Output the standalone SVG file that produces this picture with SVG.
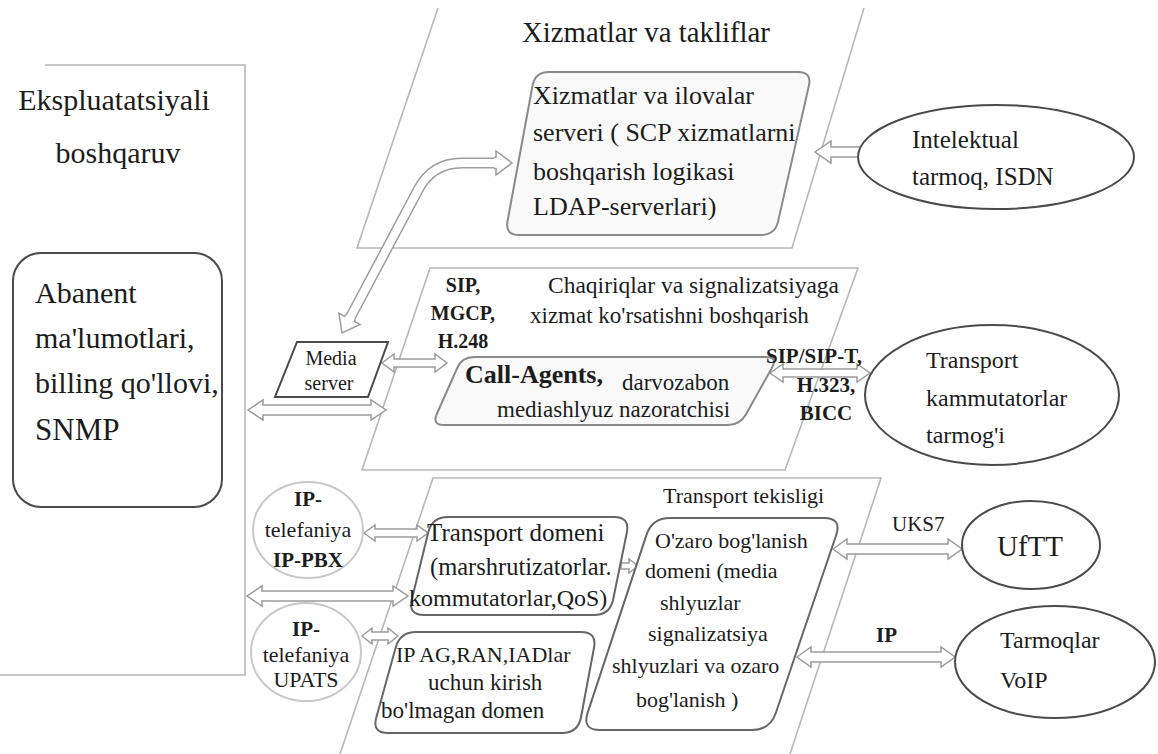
<svg xmlns="http://www.w3.org/2000/svg" xmlns:xlink="http://www.w3.org/1999/xlink" width="1158" height="754" viewBox="0 0 1158 754">
<style>
text{font-family:'Liberation Serif','Tinos','Times New Roman','DejaVu Serif',serif;fill:#1c1c1c}
.b{font-weight:bold}
.m{text-anchor:middle}
.frame{fill:none;stroke:#b7b7b7;stroke-width:1.6}
.arrow{fill:#fff;stroke:#9c9c9c;stroke-width:1.5}
.box{fill:#f9f9f9;stroke:#8a8a8a;stroke-width:2}
.box2{fill:#fff;stroke:#666;stroke-width:2}
.dark{fill:#fff;stroke:#4a4a4a;stroke-width:2}
.light{fill:#fff;stroke:#c8c8c8;stroke-width:2}
</style>
<defs>
<path id="head" d="M-18,-5.5 L-16,-5.5 L-16,-12 L0,0 L-16,12 L-16,5.5 L-18,5.5" class="arrow"/>
</defs>
<rect x="0" y="0" width="1158" height="754" fill="#fff"/>

<g id="planes">
<polyline class="frame" points="45,65 245,65 245,675 0,675"/>
<polyline class="frame" points="438,8 357,248 792,248 864,8"/>
<polygon class="frame" points="430,268 858,268 785,470 362,470"/>
<polyline class="frame" points="340,754 433,478 881,478 790,754"/>
</g>

<g id="connectors">
<polygon class="arrow" points="815,152 831,141 831,147 862,147 862,157 831,157 831,163"/>
<path d="M350,318 L418,190 Q432,163 462,163 L495,163" fill="none" stroke="#9c9c9c" stroke-width="11"/>
<path d="M350,318 L418,190 Q432,163 462,163 L495,163" fill="none" stroke="#fff" stroke-width="8"/>
<use xlink:href="#head" transform="translate(512,163)"/>
<use xlink:href="#head" transform="translate(342,333) rotate(118)"/>
<polygon class="arrow" points="382,363 394,354 394,359 435,359 435,354 447,363 435,372 435,367 394,367 394,372"/>
<polygon class="arrow" points="248,410 263,400 263,405 371,405 371,400 386,410 371,420 371,415 263,415 263,420"/>
<polygon class="arrow" points="247,596 262,586 262,591 393,591 393,586 408,596 393,606 393,601 262,601 262,606"/>
<polygon class="arrow" points="364,533 375,525 375,529 417,529 417,525 428,533 417,541 417,537 375,537 375,541"/>
<polygon class="arrow" points="362,636 372,628 372,632 388,632 388,628 398,636 388,644 388,640 372,640 372,644"/>
<polygon class="arrow" points="621,563 629,563 629,559 638,566 629,573 629,569 621,569"/>
<polygon class="arrow" points="833,549 847,539 847,544 948,544 948,539 962,549 948,559 948,554 847,554 847,559"/>
<polygon class="arrow" points="797,657 811,647 811,652 941,652 941,647 955,657 941,667 941,662 811,662 811,667"/>
<polygon class="arrow" points="770,373 783,364 783,369 857,369 857,364 870,373 857,382 857,377 783,377 783,382"/>
</g>

<g id="ekspluatatsiya">
<text class="m" x="114" y="110" font-size="30">Ekspluatatsiyali</text>
<text class="m" x="118" y="163" font-size="30">boshqaruv</text>
</g>

<g id="abanent">
<rect class="dark" x="13" y="253" width="209" height="254" rx="28" ry="28"/>
<text x="35" y="303" font-size="30">Abanent</text>
<text x="35" y="348" font-size="30">ma'lumotlari,</text>
<text x="35" y="393" font-size="30">billing qo'llovi,</text>
<text x="35" y="440" font-size="31">SNMP</text>
</g>

<g id="title">
<text x="522" y="42" font-size="28.8">Xizmatlar va takliflar</text>
</g>

<g id="server">
<path class="box" d="M549,72 L798,72 Q812,72 808.9,85.7 L778.1,221.4 Q775,235 761,235 L519,235 Q505,235 507.5,221.2 L532.5,85.8 Q535,72 549,72 Z"/>
<text x="533" y="104" font-size="26">Xizmatlar va ilovalar</text>
<text x="533" y="141" font-size="26">serveri ( SCP xizmatlarni</text>
<text x="533" y="180" font-size="26">boshqarish logikasi</text>
<text x="533" y="215" font-size="26">LDAP-serverlari)</text>
</g>

<g id="intelektual">
<ellipse class="dark" cx="996" cy="157" rx="138" ry="52"/>
<text x="912" y="148" font-size="25">Intelektual</text>
<text x="912" y="185" font-size="25">tarmoq, ISDN</text>
</g>

<g id="media-server">
<polygon class="dark" points="297,342 388,342 368,397 275,397"/>
<text class="m" x="331" y="365" font-size="20">Media</text>
<text class="m" x="329" y="390" font-size="20">server</text>
</g>

<g id="call-control">
<text class="b m" x="463" y="292" font-size="20">SIP,</text>
<text class="b m" x="463" y="320" font-size="20">MGCP,</text>
<text class="b m" x="463" y="348" font-size="20">H.248</text>
<text x="548" y="293" font-size="23.5">Chaqiriqlar va signalizatsiyaga</text>
<text x="530" y="323" font-size="23">xizmat ko'rsatishni boshqarish</text>
</g>

<g id="call-agents">
<path class="box" d="M474,357 L766,357 Q778,357 772.1,367.5 L745.9,414.5 Q740,425 728,425 L444,425 Q432,425 436.8,414 L457.2,368 Q462,357 474,357 Z"/>
<text class="b" x="465" y="383" font-size="26">Call-Agents,</text>
<text x="622" y="390" font-size="23">darvozabon</text>
<text x="497" y="417" font-size="23">mediashlyuz nazoratchisi</text>
</g>

<g id="sip-label">
<text class="b" x="766" y="363" font-size="21">SIP/SIP-T,</text>
<text class="b m" x="826" y="392" font-size="21">H.323,</text>
<text class="b m" x="826" y="420" font-size="21">BICC</text>
</g>

<g id="transport-kommutatorlar">
<ellipse class="dark" cx="992" cy="395" rx="127" ry="70"/>
<text x="926" y="368" font-size="24">Transport</text>
<text x="926" y="406" font-size="24">kammutatorlar</text>
<text x="926" y="443" font-size="24">tarmog'i</text>
</g>

<g id="transport-tekisligi">
<text x="663" y="503" font-size="22">Transport tekisligi</text>
</g>

<g id="ip-pbx">
<ellipse class="light" cx="308" cy="530" rx="55" ry="48"/>
<text class="b m" x="308" y="506" font-size="21">IP-</text>
<text class="m" x="308" y="537" font-size="22">telefaniya</text>
<text class="b m" x="308" y="567" font-size="21">IP-PBX</text>
</g>

<g id="upats">
<ellipse class="light" cx="306" cy="652" rx="55" ry="49"/>
<text class="b m" x="306" y="636" font-size="21">IP-</text>
<text class="m" x="306" y="662" font-size="22">telefaniya</text>
<text class="m" x="306" y="687" font-size="22">UPATS</text>
</g>

<g id="transport-domeni">
<path class="box2" d="M448,517 L614,517 Q630,517 626.8,532.7 L613.2,599.3 Q610,615 594,615 L424,615 Q408,615 411.8,599.5 L428.2,532.5 Q432,517 448,517 Z"/>
<text x="427" y="541" font-size="25">Transport domeni</text>
<text x="430" y="575" font-size="24.5">(marshrutizatorlar.</text>
<text x="409" y="606" font-size="24">kommutatorlar,QoS)</text>
</g>

<g id="kirish-domen">
<path class="box2" d="M416,632 L581,632 Q597,632 594,647.7 L581,717.3 Q578,733 562,733 L388,733 Q372,733 376.3,717.6 L395.7,647.4 Q400,632 416,632 Z"/>
<text x="396" y="662" font-size="22">IP AG,RAN,IADlar</text>
<text x="428" y="690" font-size="23">uchun kirish</text>
<text x="381" y="718" font-size="23">bo'lmagan domen</text>
</g>

<g id="ozaro-domen">
<path class="box2" d="M670,518 L824,518 Q842,518 836.2,535 L775.8,713 Q770,730 752,730 L600,730 Q582,730 587.6,712.9 L646.4,535.1 Q652,518 670,518 Z"/>
<text x="655" y="548" font-size="22">O'zaro bog'lanish</text>
<text x="645" y="578" font-size="22">domeni (media</text>
<text x="660" y="610" font-size="22">shlyuzlar</text>
<text x="648" y="641" font-size="22">signalizatsiya</text>
<text x="612" y="673" font-size="22">shlyuzlari va ozaro</text>
<text x="636" y="707" font-size="22">bog'lanish )</text>
</g>

<g id="link-labels">
<text x="892" y="531" font-size="21">UKS7</text>
<text class="b" x="876" y="642" font-size="21">IP</text>
</g>

<g id="uftt">
<ellipse class="dark" cx="1031" cy="545" rx="69" ry="44"/>
<text x="997" y="556" font-size="29">UfTT</text>
</g>

<g id="voip">
<ellipse class="dark" cx="1055" cy="662" rx="100" ry="56"/>
<text x="1000" y="648" font-size="24">Tarmoqlar</text>
<text x="1000" y="688" font-size="24">VoIP</text>
</g>
</svg>
